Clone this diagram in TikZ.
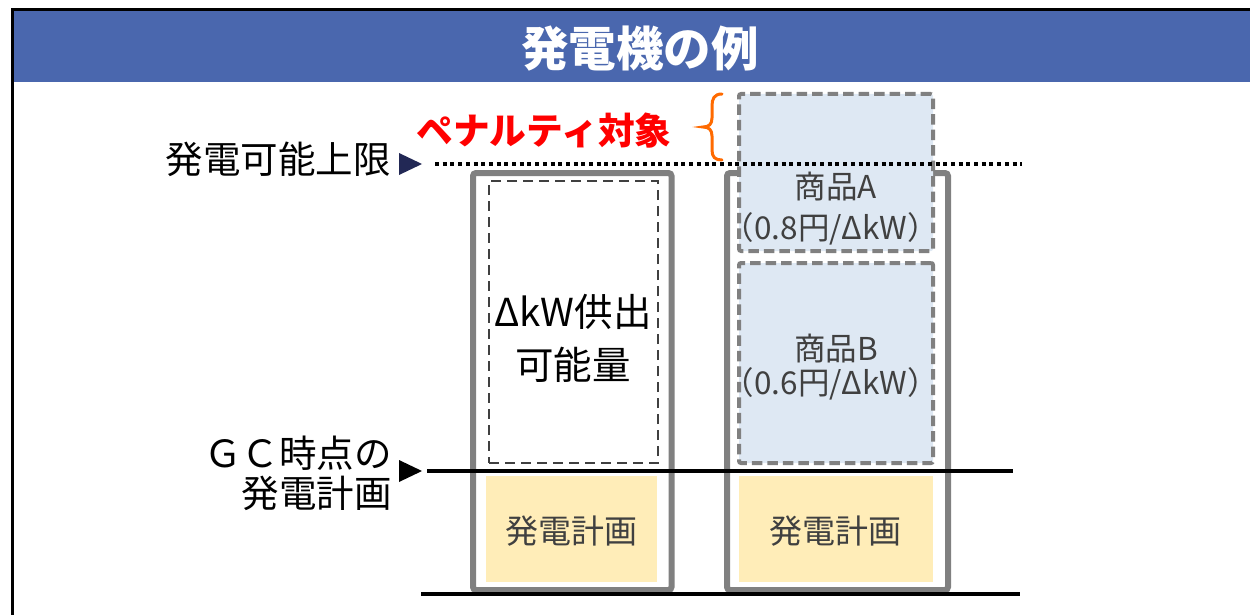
\documentclass[tikz,border=0pt]{standalone}
\usepackage{fontspec}
\setmainfont{Noto Sans CJK JP}
\definecolor{titleblue}{HTML}{4A67AE}
\definecolor{boxgray}{HTML}{808080}
\definecolor{dashgray}{HTML}{404040}
\definecolor{lightblue}{HTML}{DEE8F3}
\definecolor{planyellow}{HTML}{FFEDB8}
\definecolor{navy}{HTML}{222855}
\definecolor{braceorange}{HTML}{FF6A00}
\definecolor{textgray}{HTML}{404040}
\begin{document}
\begin{tikzpicture}[x=1pt,y=-1pt,
  outerbox/.style={draw=boxgray,line width=6pt,rounded corners=3pt,inner sep=0pt},
  supplybox/.style={draw=dashgray,line width=2pt,dash pattern=on 10pt off 6pt,inner sep=0pt},
  productbox/.style={draw=boxgray,fill=lightblue,line width=4pt,dash pattern=on 10.5pt off 5pt,rounded corners=2pt,inner sep=0pt},
  planbox/.style={fill=planyellow,inner sep=0pt},
  lbl/.style={font=\fontsize{37.5}{40}\selectfont,text=black,inner sep=0pt},
  prodtxt/.style={font=\fontsize{31.5}{33}\selectfont,text=textgray,inner sep=0pt},
  plantxt/.style={font=\fontsize{33}{36}\selectfont,text=textgray,inner sep=0pt},
  hline/.style={line width=4pt,black},
  dotline/.style={line width=4pt,black,dash pattern=on 4pt off 3.7pt}
]
\useasboundingbox (0,0) rectangle (1250,615);
% title band and frame
\fill[titleblue] (13.5,11.5) rectangle (1250,82);
\draw[line width=3pt] (12,615) -- (12,10) -- (1250,10);
\node[font=\fontsize{47.5}{50}\selectfont\bfseries,text=white,inner sep=0pt] (title) at (640,49) {発電機の例};

% outer gray columns
\node[outerbox,minimum width=198.5pt,minimum height=417pt] (gL) at (572.25,381.5) {};
\node[outerbox,minimum width=221pt,minimum height=417pt] (gR) at (837.5,381.5) {};

% inner boxes
\node[supplybox,minimum width=169pt,minimum height=282pt] (sup) at (573.5,322) {};
\node[planbox,minimum width=171pt,minimum height=106pt] (pL) at (571.5,529) {};
\node[planbox,minimum width=194pt,minimum height=106pt] (pR) at (836,529) {};
\node[productbox,minimum width=194pt,minimum height=157pt] (pA) at (836,172.5) {};
\node[productbox,minimum width=194pt,minimum height=200pt] (pB) at (836,363) {};

% texts in boxes
\node[lbl,align=center,font=\fontsize{38.5}{53}\selectfont] (supT) at (573,338) {ΔkW供出\\可能量};
\node[prodtxt] (aT1) at (836,187) {商品A};
\node[prodtxt] (aT2) at (831,229) {（0.8円/ΔkW）};
\node[prodtxt] (bT1) at (836,349) {商品B};
\node[prodtxt] (bT2) at (831,384) {（0.6円/ΔkW）};
\node[plantxt] (pLT) at (571,531) {発電計画};
\node[plantxt] (pRT) at (835,531) {発電計画};

% side labels
\node[lbl,anchor=east] (cap) at (391,159) {発電可能上限};
\node[lbl,anchor=east,align=right] (gc) at (392,473) {ＧＣ時点の\\発電計画};
\node[font=\fontsize{36.75}{38}\selectfont\bfseries,text=red,inner sep=0pt] (pen) at (544,131) {ペナルティ対象};

% markers
\fill[navy] (399,153) -- (422,164) -- (399,175) -- cycle;
\fill[black] (399,460) -- (422,471) -- (399,482) -- cycle;

% brace
\draw[braceorange,line width=3pt,line cap=round] (722,94) .. controls (714,94) and (712,99) .. (712,106) -- (712,118) .. controls (712,124) and (709,127) .. (703,127) .. controls (709,127) and (712,130) .. (712,136) -- (712,150) .. controls (712,157) and (715,160) .. (722,160);

% horizontal lines
\coordinate (capL) at (435,164);
\coordinate (capR) at (1022,164);
\coordinate (gcL) at (427,471);
\coordinate (gcR) at (1013,471);
\coordinate (botL) at (421,594);
\coordinate (botR) at (1020,594);
\draw[dotline] (capL) -- (capR);
\draw[hline] (gcL) -- (gcR);
\draw[hline] (botL) -- (botR);
\end{tikzpicture}
\end{document}
